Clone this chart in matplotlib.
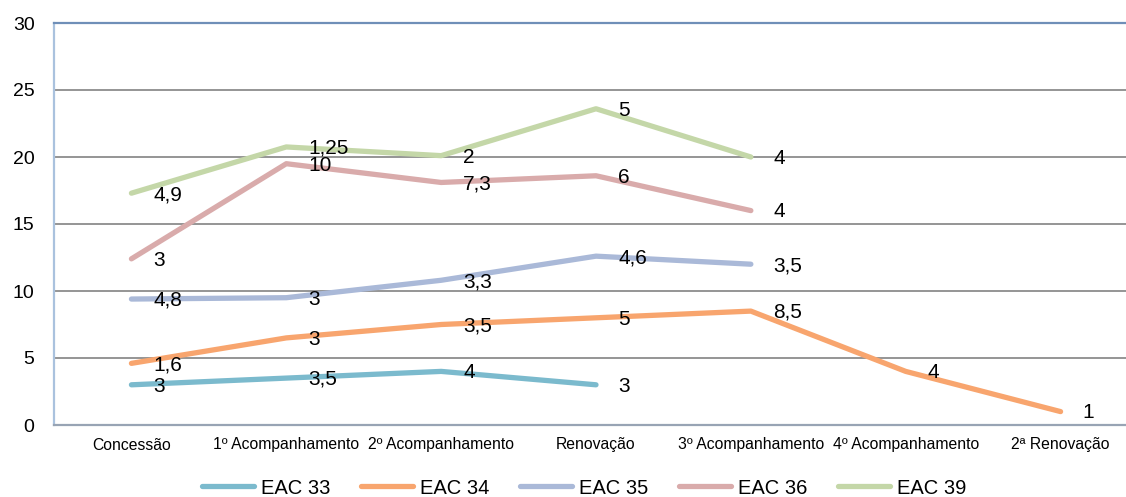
import numpy as np
import matplotlib.pyplot as plt

plt.rcParams['font.family'] = ['Liberation Sans', 'DejaVu Sans']

# Categorias e valores (cada série é empilhada sobre as anteriores)
categorias = ['Concessão', '1º Acompanhamento', '2º Acompanhamento', 'Renovação',
              '3º Acompanhamento', '4º Acompanhamento', '2ª Renovação']
eac33 = [3, 3.5, 4, 3, None, None, None]
eac34 = [1.6, 3, 3.5, 5, 8.5, 4, 1]
eac35 = [4.8, 3, 3.3, 4.6, 3.5, None, None]
eac36 = [3, 10, 7.3, 6, 4, None, None]
eac39 = [4.9, 1.25, 2, 5, 4, None, None]

series = [('EAC 33', eac33, '#7bbacd'),
          ('EAC 34', eac34, '#f8a56e'),
          ('EAC 35', eac35, '#aab9d8'),
          ('EAC 36', eac36, '#d9abab'),
          ('EAC 39', eac39, '#c4d7a8')]

fig = plt.figure(figsize=(11.26, 4.97), dpi=100)
ax = fig.add_axes([54 / 1126, 1 - 425 / 497, (1138 - 54) / 1126, (425 - 23) / 497])

x = np.arange(len(categorias))
base = np.zeros(len(categorias))
for nome, vals, cor in series:
    v = np.array([np.nan if a is None else a for a in vals], dtype=float)
    topo = base + np.nan_to_num(v)
    y = np.where(np.isnan(v), np.nan, topo)
    ax.plot(x, y, color=cor, lw=3.8, solid_capstyle='round', solid_joinstyle='round',
            label=nome, zorder=3)
    for xi, yi, vi in zip(x, y, v):
        if not np.isnan(vi):
            txt = ('%g' % vi).replace('.', ',')
            ax.annotate(txt, (xi, yi), xytext=(16, -1), textcoords='offset points',
                        va='center', ha='left', fontsize=15, zorder=4)
    base = topo

ax.set_xlim(-0.5, len(categorias) - 0.5)
ax.set_ylim(0, 30)
ax.set_yticks(range(0, 31, 5))
ax.set_xticks(x)
ax.set_xticklabels(categorias, fontsize=11.3)
ax.tick_params(axis='y', length=0, pad=14, labelsize=14)
ax.tick_params(axis='x', length=0, pad=9)
ax.grid(axis='y', color='#8c8c8c', lw=1.3, zorder=1)

ax.spines['top'].set_color('#6f8fb8')
ax.spines['top'].set_linewidth(1.6)
ax.spines['left'].set_color('#aac2de')
ax.spines['left'].set_linewidth(1.6)
ax.spines['bottom'].set_color('#98a4b4')
ax.spines['bottom'].set_linewidth(1.6)
ax.spines['right'].set_visible(False)

fig.legend(loc='center', bbox_to_anchor=(0.519, 1 - 488 / 497), ncol=5, frameon=False,
           fontsize=14.5, handlelength=2.6, handletextpad=0.35, columnspacing=1.5)

fig.savefig('out.png', dpi=100)
